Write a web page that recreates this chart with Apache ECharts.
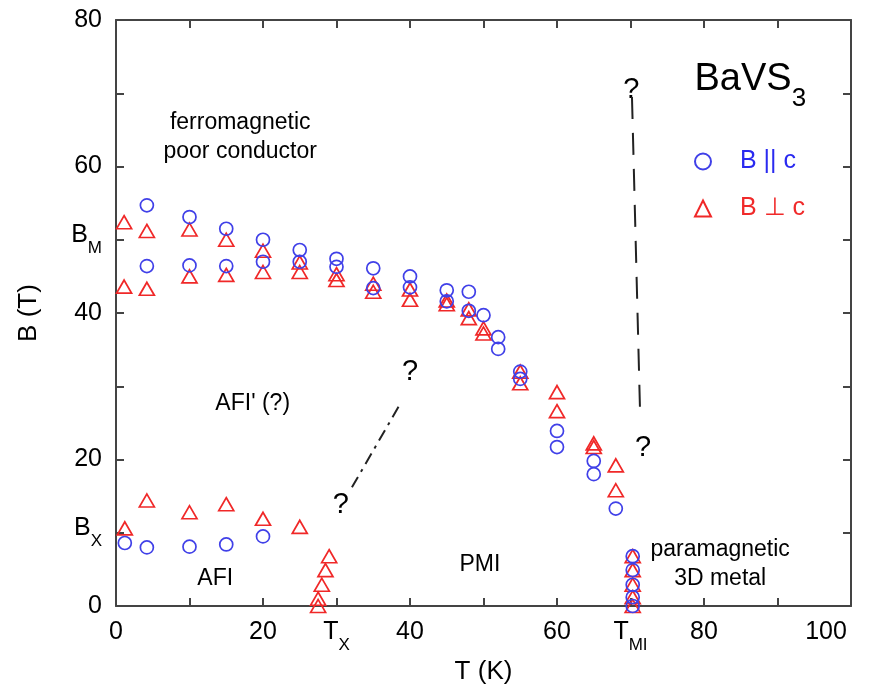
<!DOCTYPE html>
<html>
<head>
<meta charset="utf-8">
<script src="https://cdn.jsdelivr.net/npm/echarts@6/dist/echarts.min.js"></script>
<style>html,body{margin:0;padding:0;background:#fff;}#c{width:878px;height:690px;}</style>
</head>
<body>
<div id="c"></div>
<script>
// ---- data ----
const parallelT = [1.2, 4.2, 10, 15, 20,
  4.2, 4.2, 10, 10, 15, 15, 20, 20, 25, 25, 30, 30, 35, 35, 40, 40, 45, 45, 48, 48, 50, 52, 52, 55, 55, 60, 60, 65, 65, 68,
  70.3, 70.3, 70.3, 70.3, 70.3];
const parallelB = [8.6, 8.0, 8.1, 8.4, 9.5,
  54.7, 46.4, 53.1, 46.5, 51.5, 46.4, 50.0, 47.0, 48.6, 47.0, 47.4, 46.3, 46.1, 43.4, 45.0, 43.5, 43.1, 41.6, 42.9, 40.3, 39.7, 36.7, 35.1, 32.0, 31.0, 23.9, 21.7, 19.8, 18.0, 13.3,
  6.8, 4.9, 2.9, 1.2, 0];
const perpT = [1.2, 4.2, 10, 15, 20, 25,
  29, 28.5, 28, 27.5, 27.5,
  1.1, 1.1, 4.2, 4.2, 10, 10, 15, 15, 20, 20, 25, 25, 30, 30, 35, 35, 40, 40, 45, 45, 48, 48, 50, 50, 55, 55, 60, 60, 65, 65, 68, 68,
  70.3, 70.3, 70.3, 70.3, 70.3];
const perpB = [10.6, 14.4, 12.8, 13.9, 11.9, 10.8,
  6.8, 4.9, 2.9, 1.0, 0,
  52.4, 43.6, 51.2, 43.3, 51.4, 45.0, 50.0, 45.2, 48.5, 45.6, 46.9, 45.6, 45.3, 44.5, 44.0, 42.9, 43.2, 41.8, 41.7, 41.2, 40.5, 39.3, 37.9, 37.2, 32.0, 30.4, 29.2, 26.6, 22.2, 21.7, 19.2, 15.8,
  6.8, 4.9, 2.9, 1.2, 0];
const dashedT = [70.2, 71.3];
const dashedB = [69.5, 26.5];
const dashDotT = [32.1, 38.5];
const dashDotB = [16.2, 27.3];
const xTickValues = [0, 20, 30, 40, 60, 70, 80, 100];
const xTickTexts = ['0', '20', '{t|T}{s|X}', '40', '60', '{t|T}{s|MI}', '80', '{r|100}'];
const yTickValues = [0, 10, 20, 40, 50, 60, 80];
const yTickTexts = ['0', '{t|B}{s|X}', '20', '40', '{t|B}{s|M}', '60', '80'];
const annoTexts = ['ferromagnetic\npoor conductor', '{b|BaVS}{s|3}', '?', '?', "AFI' (?)", '?', '?', 'AFI', 'PMI', 'paramagnetic\n3D metal'];
const annoT = [16.9, 86.3, 70.1, 40.0, 18.6, 71.7, 30.6, 13.5, 49.5, 82.2];
const annoB = [64.0, 70.4, 70.4, 32.0, 27.6, 21.6, 13.8, 3.8, 5.6, 5.7];
const annoSize = [23, 38, 29, 29, 23, 29, 29, 23, 23, 23];
const seriesNames = ['B || c', 'B \u22a5 c'];

// ---- styling ----
const FONT = 'Liberation Sans, Arial, Helvetica, sans-serif';
const BLUE = '#4040e8';
const RED = '#f02828';
const AX = '#444';
const TXT = '#000';
const pair = (a, b) => a.map((v, i) => [v, b[i]]);
const lookup = (vals, texts) => (v) => { const i = vals.indexOf(Math.round(v)); return i < 0 ? '' : texts[i]; };
const tickRich = {
  t: {fontSize: 25, fontFamily: FONT, color: TXT, verticalAlign: 'bottom', padding: [0, 0, 9, 0]},
  s: {fontSize: 17, fontFamily: FONT, color: TXT, verticalAlign: 'bottom'},
  r: {fontSize: 25, fontFamily: FONT, color: TXT, padding: [0, 50, 0, 0]}
};

const chart = echarts.init(document.getElementById('c'), null, {renderer: 'canvas'});
const axisCommon = {
  min: 0, interval: 10,
  axisLine: {show: true, onZero: false, lineStyle: {color: AX, width: 2}},
  axisTick: {show: true, inside: true, length: 8, lineStyle: {color: AX, width: 2}},
  splitLine: {show: false}
};
chart.setOption({
  animation: false,
  backgroundColor: '#fff',
  grid: {left: 116, right: 27, top: 20, bottom: 84, containLabel: false},
  xAxis: [
    Object.assign({}, axisCommon, {
      type: 'value', max: 100, position: 'bottom',
      name: 'T (K)', nameLocation: 'middle', nameGap: 50,
      nameTextStyle: {fontSize: 26, fontFamily: FONT, color: TXT},
      axisLabel: {margin: 14, fontSize: 25, fontFamily: FONT, color: TXT, formatter: lookup(xTickValues, xTickTexts), rich: tickRich}
    }),
    Object.assign({}, axisCommon, {
      type: 'value', max: 100, position: 'top', axisLabel: {show: false}
    })
  ],
  yAxis: [
    Object.assign({}, axisCommon, {
      type: 'value', max: 80, position: 'left',
      name: 'B (T)', nameLocation: 'middle', nameGap: 74,
      nameTextStyle: {fontSize: 26, fontFamily: FONT, color: TXT},
      axisLabel: {margin: 14, fontSize: 25, fontFamily: FONT, color: TXT, formatter: lookup(yTickValues, yTickTexts), rich: tickRich}
    }),
    Object.assign({}, axisCommon, {
      type: 'value', max: 80, position: 'right', axisLabel: {show: false}
    })
  ],
  legend: {
    orient: 'vertical', left: 689, top: 144, itemWidth: 16, itemHeight: 16, itemGap: 22,
    data: [
      {name: seriesNames[0], textStyle: {color: '#2a2af0'}},
      {name: seriesNames[1], textStyle: {color: '#f02a2a'}}
    ],
    textStyle: {fontSize: 25, fontFamily: FONT, padding: [0, 0, 0, 24]}
  },
  series: [
    {
      name: seriesNames[1], type: 'scatter', symbol: 'triangle', symbolSize: [15, 13],
      data: pair(perpT, perpB),
      itemStyle: {color: 'rgba(0,0,0,0)', borderColor: RED, borderWidth: 1.7, opacity: 1}
    },
    {
      name: seriesNames[0], type: 'scatter', symbol: 'circle', symbolSize: 13,
      data: pair(parallelT, parallelB),
      itemStyle: {color: 'rgba(0,0,0,0)', borderColor: BLUE, borderWidth: 1.7, opacity: 1}
    },
    {
      name: 'boundary', type: 'line', symbol: 'none', data: pair(dashedT, dashedB),
      lineStyle: {color: '#222', width: 2, type: [22, 14]}, silent: true
    },
    {
      name: 'boundary2', type: 'line', symbol: 'none', data: pair(dashDotT, dashDotB),
      lineStyle: {color: '#222', width: 2, type: [12, 6, 3, 6]}, silent: true
    },
    {
      name: 'annotations', type: 'scatter', symbolSize: 0, silent: true,
      itemStyle: {opacity: 1},
      data: annoTexts.map((t, i) => ({
        value: [annoT[i], annoB[i]],
        label: {show: true, position: 'inside', formatter: t, fontSize: annoSize[i], lineHeight: annoSize[i] + 6,
          fontFamily: FONT, color: TXT, align: 'center', textBorderWidth: 0,
          rich: {
            b: {fontSize: 38, fontFamily: FONT, color: TXT, verticalAlign: 'bottom', padding: [0, 0, 14, 0]},
            s: {fontSize: 26, fontFamily: FONT, color: TXT, verticalAlign: 'bottom'}
          }}
      }))
    }
  ]
});
</script>
</body>
</html>
